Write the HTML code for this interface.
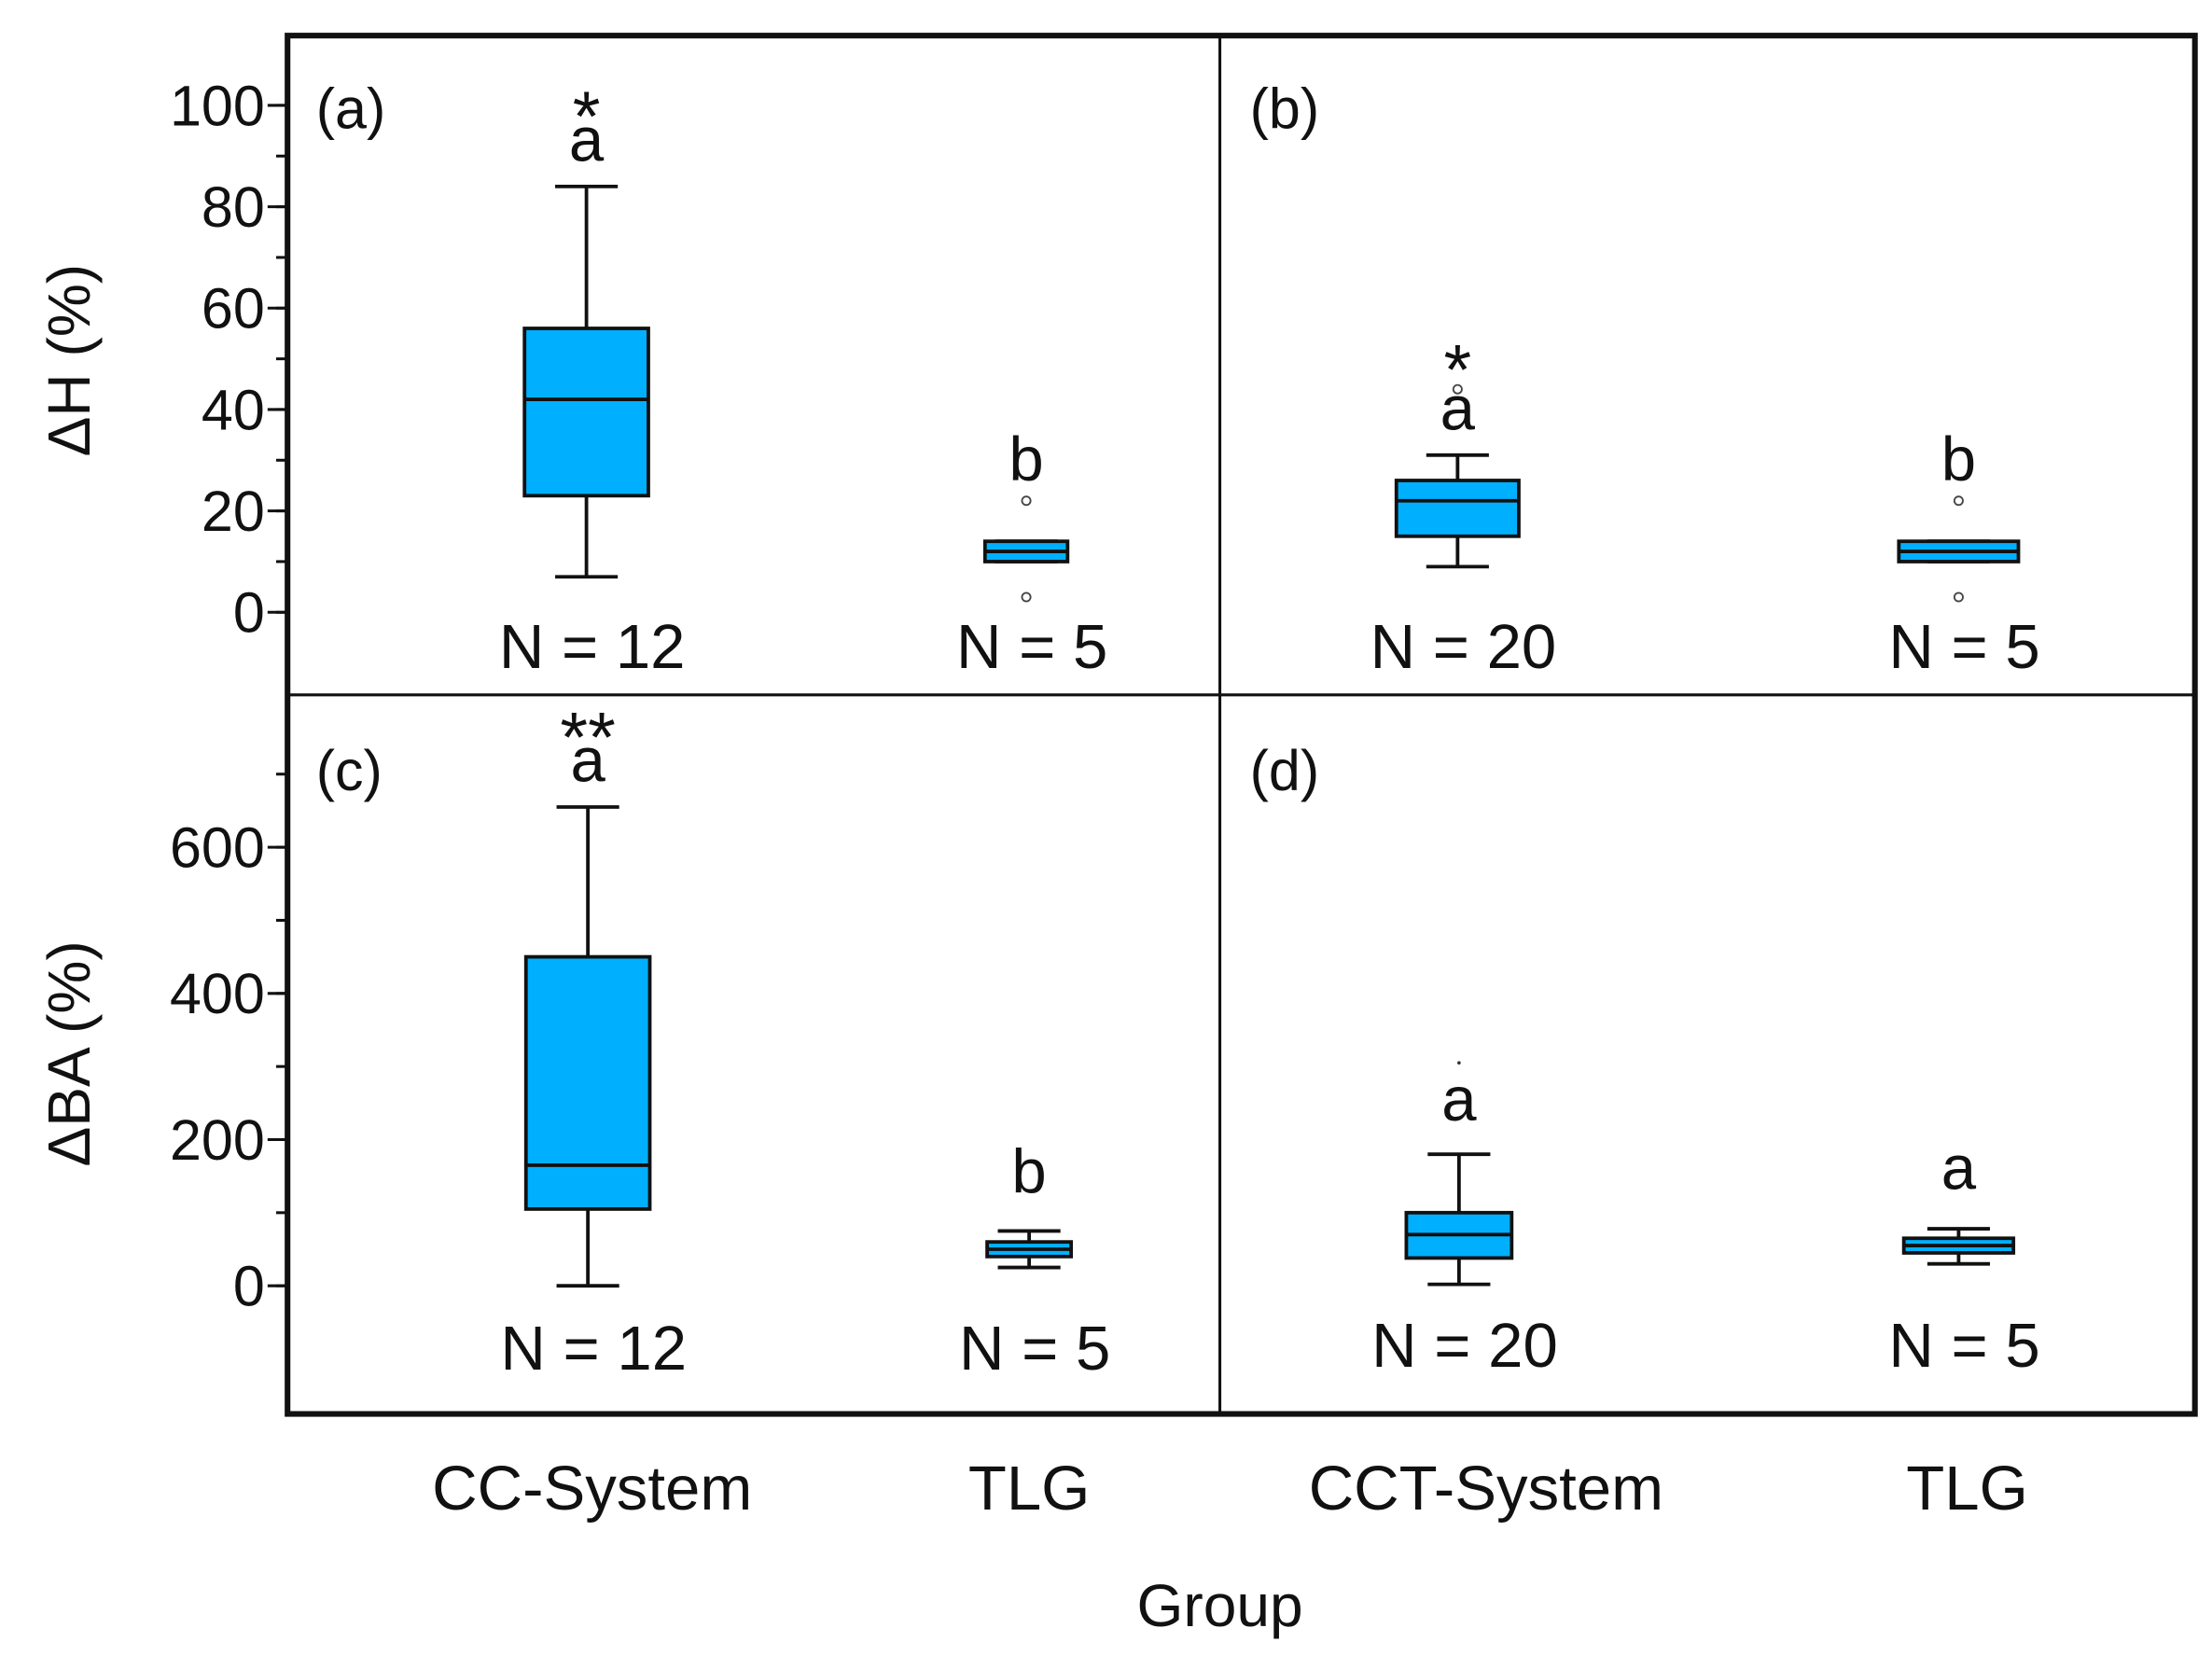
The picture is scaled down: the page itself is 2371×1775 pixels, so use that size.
<!DOCTYPE html>
<html><head><meta charset="utf-8"><style>
html,body{margin:0;padding:0;background:#fff;}
svg{display:block;}
text{font-family:"Liberation Sans",sans-serif;fill:#111;}
</style></head><body>
<svg id="chart" width="2371" height="1775" viewBox="0 0 1554 1163" preserveAspectRatio="none" xmlns="http://www.w3.org/2000/svg">
<g id="g"></g>
</svg>
<script>
// Panel data: [whiskerLow, Q1, median, Q3, whiskerHigh]
const panelLabels = ["(a)", "(b)", "(c)", "(d)"];
const groupNames = ["CC-System", "TLG", "CCT-System", "TLG"];
const statsA = [[7, 23, 42, 56, 84], [10, 10, 12, 14, 14]];
const statsB = [[9, 15, 22, 26, 31], [10, 10, 12, 14, 14]];
const statsC = [[0, 105, 165, 450, 655], [25, 40, 50, 60, 75]];
const statsD = [[2, 38, 70, 100, 180], [30, 45, 55, 65, 78]];
const outliersA = [[], [22, 3]];
const outliersB = [[44], [22, 3]];
const outliersC = [[], []];
const outliersD = [[305], []];
const lettersA = ["a", "b"];
const lettersB = ["a", "b"];
const lettersC = ["a", "b"];
const lettersD = ["a", "a"];
const letterValA = [89, 26];
const letterValB = [36, 26];
const letterValC = [690, 127];
const letterValD = [226, 132];
const starsA = ["*", ""];
const starsB = ["*", ""];
const starsC = ["**", ""];
const starsD = ["", ""];
const starValA = [93, 0];
const starValB = [43, 0];
const starValC = [717, 0];
const starValD = [0, 0];
const nLabelsA = ["N = 12", "N = 5"];
const nLabelsB = ["N = 20", "N = 5"];
const nLabelsC = ["N = 12", "N = 5"];
const nLabelsD = ["N = 20", "N = 5"];
const ticksTop = [0, 20, 40, 60, 80, 100];
const ticksBottom = [0, 200, 400, 600];

const NS = "http://www.w3.org/2000/svg";
const g = document.getElementById("g");
function el(tag, attrs, parent) {
  const e = document.createElementNS(NS, tag);
  for (const k in attrs) e.setAttribute(k, attrs[k]);
  (parent || g).appendChild(e);
  return e;
}
function txt(x, y, s, size, anchor, parent) {
  const t = el("text", {x: x, y: y, "font-size": size, "text-anchor": anchor || "middle"}, parent);
  t.textContent = s;
  return t;
}
const L = 202, R = 1542, T = 25, B = 993, MX = 857, MY = 488;
const yTop = v => 430 - v * 3.56;
const yBot = v => 903 - v * (308 / 600);

const frame = el("rect", {x: L, y: T, width: R - L, height: B - T, fill: "none", stroke: "#111", "stroke-width": 4});


const vdiv = el("line", {x1: MX, y1: T, x2: MX, y2: B, stroke: "#111", "stroke-width": 2});


const hdiv = el("line", {x1: L, y1: MY, x2: R, y2: MY, stroke: "#111", "stroke-width": 2});



function yaxis(ticks, minorStep, maxV, scale, name) {
  const ax = el("g", {});
  
  
  for (let v = 0; v <= maxV; v += minorStep) {
    el("line", {x1: L - 8, y1: scale(v), x2: L, y2: scale(v), stroke: "#111", "stroke-width": 2}, ax);
  }
  ticks.forEach(v => {
    el("line", {x1: L - 14, y1: scale(v), x2: L, y2: scale(v), stroke: "#111", "stroke-width": 2}, ax);
    const t = txt(L - 16, scale(v) + 14, String(v), 40, "end", ax);
    
    
  });
}
yaxis(ticksTop, 10, 100, yTop, "y-axis-top");
yaxis(ticksBottom, 100, 700, yBot, "y-axis-bottom");

const yt1 = txt(0, 0, "\u0394H (%)", 42, "middle");
yt1.setAttribute("transform", "translate(63,253) rotate(-90)");


const yt2 = txt(0, 0, "\u0394BA (%)", 42, "middle");
yt2.setAttribute("transform", "translate(63,740) rotate(-90)");



function panel(idx, stats, outs, letters, letterVals, stars, starVals, nlabs, scale, centers, widths, panelX, panelY, nY, dotOut) {
  const pg = el("g", {});
  
  
  const pl = txt(panelX, panelY, panelLabels[idx], 40, "start", pg);
  
  
  stats.forEach((s, i) => {
    const cx = centers[i], w = widths[i];
    const bg = el("g", {}, pg);
    
    
    const st = {stroke: "#111", "stroke-width": 2.5};
    el("line", Object.assign({x1: cx, y1: scale(s[0]), x2: cx, y2: scale(s[1])}, st), bg);
    el("line", Object.assign({x1: cx, y1: scale(s[3]), x2: cx, y2: scale(s[4])}, st), bg);
    el("line", Object.assign({x1: cx - 22, y1: scale(s[0]), x2: cx + 22, y2: scale(s[0])}, st), bg);
    el("line", Object.assign({x1: cx - 22, y1: scale(s[4]), x2: cx + 22, y2: scale(s[4])}, st), bg);
    el("rect", {x: cx - w / 2, y: scale(s[3]), width: w, height: Math.max(scale(s[1]) - scale(s[3]), 1), fill: "#00b0ff", stroke: "#111", "stroke-width": 2.5}, bg);
    el("line", Object.assign({x1: cx - w / 2, y1: scale(s[2]), x2: cx + w / 2, y2: scale(s[2])}, st), bg);
    outs[i].forEach(o => {
      const c = dotOut
        ? el("circle", {cx: cx, cy: scale(o), r: 1.2, fill: "#333"}, bg)
        : el("circle", {cx: cx, cy: scale(o), r: 3, fill: "#fff", stroke: "#444", "stroke-width": 1.2}, bg);
      
      
    });
    const lt = txt(cx, scale(letterVals[i]), letters[i], 44, "middle", bg);
    
    
    if (stars[i]) {
      const sTxt = txt(cx, scale(starVals[i]), stars[i], 50, "middle", bg);
      
      
    }
    const nt = txt(cx + 4, nY, nlabs[i], 44, "middle", bg);
    
    
  });
}
panel(0, statsA, outliersA, lettersA, letterValA, starsA, starValA, nLabelsA, yTop, [412, 721], [87, 58], 222, 90, 469, false);
panel(1, statsB, outliersB, lettersB, letterValB, starsB, starValB, nLabelsB, yTop, [1024, 1376], [86, 84], 878, 90, 469, false);
panel(2, statsC, outliersC, lettersC, letterValC, starsC, starValC, nLabelsC, yBot, [413, 723], [87, 59], 222, 555, 962, false);
panel(3, statsD, outliersD, lettersD, letterValD, starsD, starValD, nLabelsD, yBot, [1025, 1376], [74, 77], 878, 555, 960, true);

[416, 723, 1044, 1382].forEach((x, i) => {
  const t = txt(x, 1060, groupNames[i], 44, "middle");
  
  
});
const xt = txt(857, 1142, "Group", 42, "middle");


</script>
</body></html>
